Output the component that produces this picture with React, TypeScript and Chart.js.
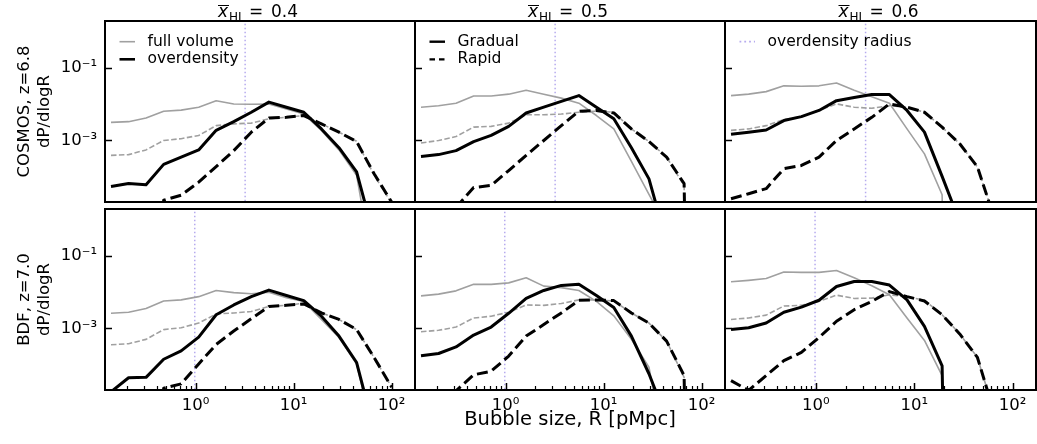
import React, { useEffect, useRef } from 'react';
import { Chart, registerables } from 'chart.js';

Chart.register(...registerables);

// ---------------- data ----------------
// bubble radius bins [pMpc]
const R_BINS = [0.137, 0.207, 0.312, 0.472, 0.712, 1.075, 1.62, 2.45, 3.7, 5.59, 8.44, 12.7, 19.2, 29.0, 43.9, 66.2, 100];

// log10(dP/dlogR); null = zero probability
// COSMOS z=6.8
const COSMOS_04_FULL_GRADUAL = [-2.50, -2.48, -2.38, -2.19, -2.16, -2.08, -1.90, -1.99, -2.00, -1.99, -2.13, -2.27, -2.72, -3.26, -3.96, -6.7, null];
const COSMOS_04_OD_GRADUAL = [-4.27, -4.19, -4.22, -3.66, -3.46, -3.26, -2.72, -2.48, -2.22, -1.94, -2.08, -2.22, -2.68, -3.20, -3.87, -5.66, null];
const COSMOS_04_FULL_RAPID = [-3.41, -3.39, -3.26, -3.00, -2.95, -2.86, -2.59, -2.54, -2.52, -2.40, -2.36, -2.31, -2.54, -2.77, -3.02, -3.95, -4.74];
const COSMOS_04_OD_RAPID = [null, null, null, -4.65, -4.51, -4.15, -3.72, -3.28, -2.77, -2.38, -2.36, -2.31, -2.54, -2.77, -3.03, -3.92, -4.70];

const COSMOS_05_FULL_GRADUAL = [-2.08, -2.04, -1.97, -1.77, -1.77, -1.72, -1.61, -1.72, -1.83, -1.97, -2.31, -2.68, -3.58, -4.49, -5.39, null, null];
const COSMOS_05_OD_GRADUAL = [-3.44, -3.39, -3.28, -3.03, -2.86, -2.61, -2.24, -2.08, -1.92, -1.76, -2.08, -2.40, -3.20, -4.06, -5.80, null, null];
const COSMOS_05_FULL_RAPID = [-3.07, -3.00, -2.89, -2.63, -2.61, -2.52, -2.29, -2.29, -2.27, -2.22, -2.19, -2.22, -2.68, -3.03, -3.46, -4.25, null];
const COSMOS_05_OD_RAPID = [null, null, -4.85, -4.30, -4.24, -3.83, -3.41, -3.00, -2.59, -2.19, -2.17, -2.24, -2.68, -3.03, -3.46, -4.19, null];

const COSMOS_06_FULL_GRADUAL = [-1.76, -1.72, -1.65, -1.49, -1.50, -1.49, -1.41, -1.61, -1.79, -1.97, -2.68, -3.37, -4.50, null, null, null, null];
const COSMOS_06_OD_GRADUAL = [-2.83, -2.77, -2.71, -2.45, -2.34, -2.17, -1.90, -1.81, -1.73, -1.73, -2.17, -2.77, -3.99, -5.25, null, null, null];
const COSMOS_06_FULL_RAPID = [-2.72, -2.68, -2.59, -2.42, -2.34, -2.17, -1.99, -2.08, -2.11, -2.04, -2.08, -2.22, -2.63, -3.09, -3.73, -5.2, null];
const COSMOS_06_OD_RAPID = [-4.61, -4.47, -4.33, -3.78, -3.69, -3.46, -3.00, -2.68, -2.36, -1.99, -2.08, -2.22, -2.63, -3.09, -3.73, -5.2, null];

// BDF z=7.0
const BDF_04_FULL_GRADUAL = [-2.58, -2.55, -2.45, -2.24, -2.21, -2.12, -1.95, -2.01, -2.04, -2.00, -2.15, -2.25, -2.75, -3.25, -3.98, -6.0, null];
const BDF_04_OD_GRADUAL = [-4.75, -4.36, -4.35, -3.85, -3.62, -3.24, -2.62, -2.35, -2.12, -1.94, -2.09, -2.23, -2.66, -3.21, -3.94, -5.8, null];
const BDF_04_FULL_RAPID = [-3.45, -3.42, -3.30, -3.03, -2.98, -2.85, -2.60, -2.57, -2.53, -2.39, -2.36, -2.30, -2.57, -2.75, -3.03, -3.80, -4.62];
const BDF_04_OD_RAPID = [null, null, null, -4.65, -4.53, -3.98, -3.44, -3.07, -2.73, -2.39, -2.36, -2.32, -2.57, -2.75, -3.03, -3.80, -4.62];

const BDF_05_FULL_GRADUAL = [-2.10, -2.05, -1.96, -1.78, -1.78, -1.74, -1.60, -1.83, -1.87, -1.95, -2.25, -2.65, -3.30, -4.07, -6.7, null, null];
const BDF_05_OD_GRADUAL = [-3.75, -3.69, -3.51, -3.18, -2.96, -2.58, -2.17, -1.95, -1.81, -1.78, -2.09, -2.42, -3.21, -4.25, -5.5, null, null];
const BDF_05_FULL_RAPID = [-3.09, -3.05, -2.96, -2.71, -2.66, -2.55, -2.35, -2.36, -2.31, -2.21, -2.21, -2.24, -2.57, -2.85, -3.35, -4.35, null];
const BDF_05_OD_RAPID = [null, null, -4.72, -4.28, -4.18, -3.76, -3.21, -2.89, -2.57, -2.22, -2.21, -2.23, -2.57, -2.85, -3.35, -4.30, null];

const BDF_06_FULL_GRADUAL = [-1.71, -1.67, -1.62, -1.44, -1.45, -1.45, -1.40, -1.60, -1.82, -2.07, -2.71, -3.33, -4.30, null, null, null, null];
const BDF_06_OD_GRADUAL = [-3.03, -2.98, -2.85, -2.55, -2.41, -2.22, -1.84, -1.70, -1.70, -1.80, -2.21, -2.94, -4.03, null, null, null, null];
const BDF_06_FULL_RAPID = [-2.75, -2.71, -2.63, -2.38, -2.36, -2.25, -2.08, -2.17, -2.16, -2.07, -2.12, -2.22, -2.62, -3.15, -3.80, -5.4, null];
const BDF_06_OD_RAPID = [-4.44, -4.71, -4.30, -3.89, -3.66, -3.25, -2.80, -2.48, -2.25, -1.98, -2.12, -2.24, -2.62, -3.15, -3.80, -5.4, null];

const XHI_VALUES = ['0.4', '0.5', '0.6'];
const FIELD_LABELS = ['COSMOS, z=6.8', 'BDF, z=7.0'];
const Y_LABEL = 'dP/dlogR';
const X_LABEL = 'Bubble size, R [pMpc]';
const OD_RADIUS = [3.2, 0.98];

const Y_TICKS = [0.1, 0.001];
const Y_TICK_LABELS = ['10⁻¹', '10⁻³'];
const X_TICKS = [1, 10, 100];
const X_TICK_LABELS = ['10⁰', '10¹', '10²'];
const X_MINOR_TICKS = [0.2, 0.3, 0.4, 0.5, 0.6, 0.7, 0.8, 0.9, 2, 3, 4, 5, 6, 7, 8, 9, 20, 30, 40, 50, 60, 70, 80, 90];

const LEGEND_LABELS = [['full volume', 'overdensity'], ['Gradual', 'Rapid'], ['overdensity radius']];

const SERIES = [
  [
    [COSMOS_04_FULL_GRADUAL, COSMOS_04_FULL_RAPID, COSMOS_04_OD_GRADUAL, COSMOS_04_OD_RAPID],
    [COSMOS_05_FULL_GRADUAL, COSMOS_05_FULL_RAPID, COSMOS_05_OD_GRADUAL, COSMOS_05_OD_RAPID],
    [COSMOS_06_FULL_GRADUAL, COSMOS_06_FULL_RAPID, COSMOS_06_OD_GRADUAL, COSMOS_06_OD_RAPID],
  ],
  [
    [BDF_04_FULL_GRADUAL, BDF_04_FULL_RAPID, BDF_04_OD_GRADUAL, BDF_04_OD_RAPID],
    [BDF_05_FULL_GRADUAL, BDF_05_FULL_RAPID, BDF_05_OD_GRADUAL, BDF_05_OD_RAPID],
    [BDF_06_FULL_GRADUAL, BDF_06_FULL_RAPID, BDF_06_OD_GRADUAL, BDF_06_OD_RAPID],
  ],
];

// ---------------- layout / style ----------------
const W = 1037;
const H = 444;
const FONT = "'DejaVu Sans', sans-serif";
const GRAY = '#a0a0a0';
const BLACK = '#000000';
const LAV = '#b6abee';
const COLS = [[105, 415], [415, 725], [725, 1036]];
const ROWS = [[21, 202], [209, 390]];
const X_MIN = 0.119;
const X_MAX = 173;
const Y_MIN = 2e-5;
const Y_MAX = 2;
const ZERO = 1e-30;

const toPoints = (logs: (number | null)[]) =>
  R_BINS.map((x, i) => ({ x, y: logs[i] === null ? ZERO : Math.pow(10, logs[i] as number) }));

function decoPlugin(row: number, col: number) {
  return {
    id: 'deco_' + row + '_' + col,
    afterDraw(chart: any) {
      const ctx = chart.ctx;
      const { left, right, top, bottom } = chart.chartArea;
      const ys = chart.scales.y;
      const xs = chart.scales.x;
      ctx.save();
      ctx.strokeStyle = '#000';
      ctx.lineCap = 'butt';
      // inward y ticks
      ctx.lineWidth = 1.5;
      Y_TICKS.forEach((v) => {
        const py = Math.round(ys.getPixelForValue(v)) + 0.5;
        ctx.beginPath();
        ctx.moveTo(left, py);
        ctx.lineTo(left + 7, py);
        ctx.stroke();
      });
      if (row === 1) {
        X_TICKS.forEach((v) => {
          const px = Math.round(xs.getPixelForValue(v)) + 0.5;
          ctx.beginPath();
          ctx.moveTo(px, bottom);
          ctx.lineTo(px, bottom - 7);
          ctx.stroke();
        });
        ctx.lineWidth = 1.2;
        X_MINOR_TICKS.forEach((v) => {
          const px = Math.round(xs.getPixelForValue(v)) + 0.5;
          if (px < left || px > right) return;
          ctx.beginPath();
          ctx.moveTo(px, bottom);
          ctx.lineTo(px, bottom - 4);
          ctx.stroke();
        });
      }
      // frame
      ctx.lineWidth = 2;
      ctx.strokeRect(left, top, right - left, bottom - top);

      // column title
      if (row === 0) {
        const cx = (left + right) / 2;
        ctx.fillStyle = '#000';
        ctx.textBaseline = 'alphabetic';
        ctx.textAlign = 'left';
        ctx.font = 'italic 17px ' + FONT;
        ctx.fillText('x', cx - 42, 16.7);
        ctx.lineWidth = 1;
        ctx.beginPath();
        ctx.moveTo(cx - 42, 5.5);
        ctx.lineTo(cx - 31, 5.5);
        ctx.stroke();
        ctx.font = '12px ' + FONT;
        ctx.fillText('HI', cx - 31, 20.5);
        ctx.font = '17px ' + FONT;
        ctx.fillText('=', cx - 11, 16.7);
        ctx.fillText(XHI_VALUES[col], cx + 11, 16.7);

        // legend
        const labels = LEGEND_LABELS[col];
        const styles =
          col === 0
            ? [{ c: GRAY, w: 1.6, d: [] as number[] }, { c: BLACK, w: 2.6, d: [] as number[] }]
            : col === 1
            ? [{ c: BLACK, w: 2.4, d: [] as number[] }, { c: BLACK, w: 2.2, d: [5.5, 4] }]
            : [{ c: LAV, w: 1.8, d: [1.8, 3] }];
        const rowsY = [41.7, 59.3];
        ctx.font = '15.5px ' + FONT;
        ctx.textBaseline = 'middle';
        labels.forEach((lab, i) => {
          const y = rowsY[i];
          const st = styles[i];
          ctx.strokeStyle = st.c;
          ctx.lineWidth = st.w;
          ctx.setLineDash(st.d);
          ctx.beginPath();
          ctx.moveTo(left + 14.5, y);
          ctx.lineTo(left + 30, y);
          ctx.stroke();
          ctx.setLineDash([]);
          ctx.fillStyle = '#000';
          ctx.fillText(lab, left + 42.5, y);
        });
      }
      ctx.restore();
    },
  };
}

function makeConfig(row: number, col: number): any {
  const [L, Rr] = COLS[col];
  const [T, B] = ROWS[row];
  const isLeft = col === 0;
  const isBottom = row === 1;
  const [fullG, fullR, odG, odR] = SERIES[row][col];
  const od = OD_RADIUS[row];
  const common = { pointRadius: 0, pointHoverRadius: 0, tension: 0, fill: false, borderJoinStyle: 'round', borderCapStyle: 'butt' };
  return {
    type: 'line',
    data: {
      datasets: [
        { ...common, label: 'overdensity radius', data: [{ x: od, y: 1e-7 }, { x: od, y: 100 }], borderColor: LAV, borderWidth: 1.5, borderDash: [1.5, 2.5], order: 5 },
        { ...common, label: 'full volume, Gradual', data: toPoints(fullG), borderColor: GRAY, borderWidth: 1.6, order: 4 },
        { ...common, label: 'full volume, Rapid', data: toPoints(fullR), borderColor: GRAY, borderWidth: 1.6, borderDash: [5.5, 2.4], order: 3 },
        { ...common, label: 'overdensity, Gradual', data: toPoints(odG), borderColor: BLACK, borderWidth: 3, order: 2 },
        { ...common, label: 'overdensity, Rapid', data: toPoints(odR), borderColor: BLACK, borderWidth: 3, borderDash: [11, 5], order: 1 },
      ],
    },
    options: {
      responsive: false,
      animation: false,
      devicePixelRatio: 1,
      events: [],
      layout: {
        padding: {
          left: isLeft ? 0 : L,
          right: W - Rr,
          top: T,
          bottom: isBottom ? 0 : H - B,
        },
      },
      plugins: { legend: { display: false }, tooltip: { enabled: false }, title: { display: false } },
      scales: {
        x: {
          type: 'logarithmic',
          position: 'bottom',
          min: X_MIN,
          max: X_MAX,
          display: isBottom,
          grid: { display: false, drawTicks: false },
          border: { display: false },
          ticks: {
            autoSkip: false,
            maxRotation: 0,
            padding: 6,
            color: '#000',
            font: { family: FONT, size: 16.5 },
            callback: (v: number) => {
              const i = X_TICKS.indexOf(v);
              return i >= 0 ? X_TICK_LABELS[i] : '';
            },
          },
          afterBuildTicks: (s: any) => {
            s.ticks = X_TICKS.map((v) => ({ value: v }));
          },
          afterFit: (s: any) => {
            s.height = isBottom ? H - B : 0;
          },
          title: {
            display: isBottom && col === 1,
            text: X_LABEL,
            color: '#000',
            font: { family: FONT, size: 19.5 },
            padding: { top: 0, bottom: 12 },
          },
        },
        y: {
          type: 'logarithmic',
          position: 'left',
          min: Y_MIN,
          max: Y_MAX,
          display: isLeft,
          grid: { display: false, drawTicks: false },
          border: { display: false },
          ticks: {
            autoSkip: false,
            padding: 8,
            color: '#000',
            font: { family: FONT, size: 16.5 },
            callback: (v: number) => {
              const i = Y_TICKS.indexOf(v);
              return i >= 0 ? Y_TICK_LABELS[i] : '';
            },
          },
          afterBuildTicks: (s: any) => {
            s.ticks = Y_TICKS.map((v) => ({ value: v }));
          },
          afterFit: (s: any) => {
            s.width = isLeft ? L : 0;
          },
          title: {
            display: isLeft,
            text: [FIELD_LABELS[row], Y_LABEL],
            color: '#000',
            font: { family: FONT, size: 16.5 },
            padding: { top: 15, bottom: 0 },
          },
        },
      },
    },
    plugins: [decoPlugin(row, col)],
  };
}

const PANELS = [
  [0, 0], [0, 1], [0, 2],
  [1, 0], [1, 1], [1, 2],
];

export default function App() {
  const refs = useRef<(HTMLCanvasElement | null)[]>([]);
  useEffect(() => {
    const charts: Chart[] = [];
    PANELS.forEach(([r, c], i) => {
      const cv = refs.current[i];
      if (cv) charts.push(new Chart(cv, makeConfig(r, c)));
    });
    return () => charts.forEach((ch) => ch.destroy());
  }, []);
  return (
    <div style={{ position: 'absolute', left: 0, top: 0, width: W, height: H, background: '#fff' }}>
      {PANELS.map((p, i) => (
        <canvas
          key={i}
          ref={(el) => {
            refs.current[i] = el;
          }}
          width={W}
          height={H}
          style={{ position: 'absolute', left: 0, top: 0, width: W, height: H }}
        />
      ))}
    </div>
  );
}
